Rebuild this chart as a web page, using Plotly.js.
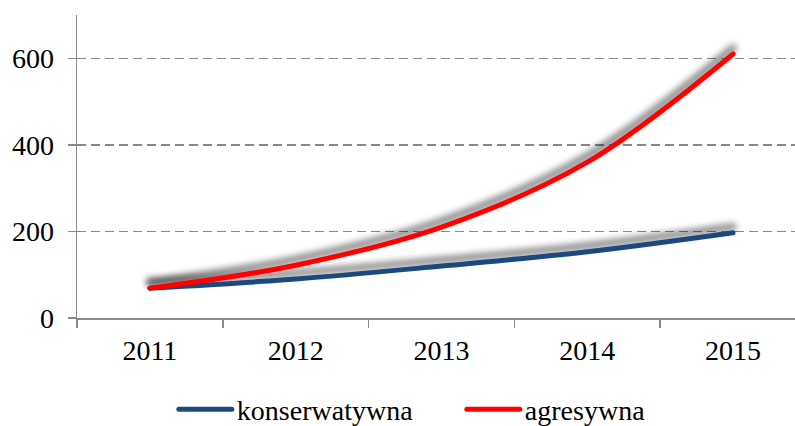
<!DOCTYPE html>
<html><head><meta charset="utf-8">
<script src="https://cdn.plot.ly/plotly-3.0.1.min.js"></script>
<style>html,body{margin:0;padding:0;background:#fff}#chart{width:795px;height:426px}</style>
</head><body>
<svg width="0" height="0" style="position:absolute">
  <defs>
    <filter id="xlShadow" filterUnits="userSpaceOnUse" x="-1000" y="-1000" width="4000" height="4000">
      <feMorphology in="SourceAlpha" operator="dilate" radius="1" result="d"/>
      <feGaussianBlur in="d" stdDeviation="3" result="b"/>
      <feOffset in="b" dx="0" dy="-6" result="o"/>
      <feFlood flood-color="#000" flood-opacity="0.45" result="f"/>
      <feComposite in="f" in2="o" operator="in" result="s"/>
      <feMerge><feMergeNode in="s"/><feMergeNode in="SourceGraphic"/></feMerge>
    </filter>
  </defs>
</svg>
<div id="chart"></div>
<script>
const years = ['2011', '2012', '2013', '2014', '2015'];
const konserwatywna = [69, 90, 120, 153, 197];
const agresywna = [69, 122, 210, 360, 610];
const yTicks = [0, 200, 400, 600];

const font = {family: 'Liberation Serif, DejaVu Serif, serif', size: 28, color: '#000'};
const axisGrey = '#8a8a8a';

const traces = [
  {x: years, y: konserwatywna, name: 'konserwatywna', type: 'scatter', mode: 'lines',
   line: {color: '#1F497D', width: 5, shape: 'spline'}},
  {x: years, y: agresywna, name: 'agresywna', type: 'scatter', mode: 'lines',
   line: {color: '#FF0000', width: 5, shape: 'spline'}}
];

const layout = {
  width: 795, height: 426,
  margin: {l: 77, r: 0, t: 15, b: 108, autoexpand: false},
  paper_bgcolor: '#fff', plot_bgcolor: '#fff',
  font: font,
  showlegend: true,
  legend: {orientation: 'h', x: 0.536, xanchor: 'center', y: -0.302, yanchor: 'middle',
           font: font, itemwidth: 53, entrywidth: 220, entrywidthmode: 'pixels',
           bgcolor: 'rgba(0,0,0,0)'},
  xaxis: {type: 'category', range: [-0.5, 4.425], tickson: 'boundaries',
          ticks: 'outside', ticklen: 8, tickwidth: 1.5, tickcolor: axisGrey,
          showline: true, linecolor: axisGrey, linewidth: 1.5,
          showgrid: false, zeroline: false, tickfont: font, ticklabelstandoff: 7,
          automargin: false, fixedrange: true},
  yaxis: {range: [0, 700], tickvals: yTicks, ticktext: yTicks.map(String),
          ticks: 'outside', ticklen: 8, tickwidth: 1.5, tickcolor: axisGrey,
          showline: true, linecolor: axisGrey, linewidth: 1.5,
          showgrid: true, gridcolor: '#888888', gridwidth: 1.5, griddash: '9px,5px',
          zeroline: false, tickfont: font, ticklabelstandoff: 8,
          automargin: false, fixedrange: true}
};

Plotly.newPlot('chart', traces, layout, {staticPlot: true, displayModeBar: false}).then(function (gd) {
  gd.querySelectorAll('.scatterlayer .trace path.js-line').forEach(function (p) {
    p.setAttribute('filter', 'url(#xlShadow)');
    p.style.strokeLinecap = 'round';
  });
  gd.querySelectorAll('.legend .legendlines path').forEach(function (p) {
    p.style.strokeLinecap = 'round';
  });
});
</script>
</body></html>
